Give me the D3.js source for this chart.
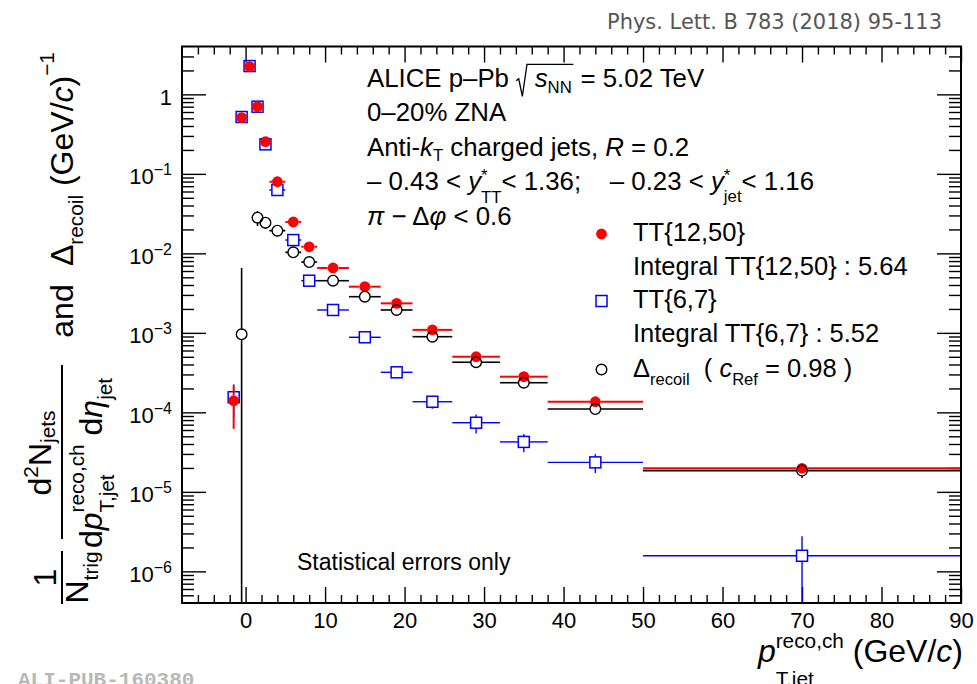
<!DOCTYPE html>
<html>
<head>
<meta charset="utf-8">
<script src="https://cdn.jsdelivr.net/npm/d3@7"></script>
<style>
  body { margin: 0; background: #fff; }
  svg { display: block; }
  text { white-space: pre; }
</style>
</head>
<body>
<svg id="chart" width="977" height="684"></svg>
<script>
// ---- data -------------------------------------------------------------
// bin edges and centres in p_T,jet (GeV/c)
const binEdges   = [-2, -1, 0, 1, 2, 3, 5, 7, 9, 13, 17, 21, 26, 32, 38, 50, 90];
const binCenters = [-1.5, -0.5, 0.5, 1.5, 2.5, 4, 6, 8, 11, 15, 19, 23.5, 29, 35, 44, 70];

// TT{12,50} per-trigger recoil yield and statistical error
const tt1250    = [1.40e-4, 0.51, 2.23, 0.70, 0.254, 0.0796, 0.0248, 0.0121, 0.00655, 0.00381, 0.00235, 0.00109, 5.01e-4, 2.81e-4, 1.36e-4, 1.98e-5];
const tt1250Err = [0.78e-4, 0.01, 0.03, 0.015, 0.006, 0.002, 0.0008, 0.0004, 0.00018, 0.00011, 0.00007, 0.00004, 0.2e-4, 0.13e-4, 0.06e-4, 0.15e-5];

// TT{6,7} per-trigger recoil yield and statistical error
const tt67      = [1.55e-4, 0.519, 2.27, 0.70, 0.235, 0.0627, 0.0147, 0.00453, 0.00194, 8.8e-4, 3.19e-4, 1.36e-4, 7.41e-5, 4.25e-5, 2.35e-5, 1.57e-6];
const tt67Err   = [0.70e-4, 0.02, 0.05, 0.025, 0.01, 0.003, 0.0008, 0.0003, 0.00013, 0.7e-4, 0.3e-4, 0.25e-4, 2.0e-5, 1.1e-5, 0.63e-5, 1.2e-6];

// Delta_recoil (null where the difference is not positive)
const recoil    = [null, 9.59e-4, null, 0.0281, 0.0243, 0.0193, 0.0103, 0.00778, 0.00453, 0.00285, 0.00194, 8.95e-4, 4.27e-4, 2.36e-4, 1.10e-4, 1.85e-5];
const recoilErr = [null, 0.0056, null, 0.006, 0.004, 0.002, 0.0008, 0.0005, 0.0002, 0.00012, 0.00008, 0.00004, 0.2e-4, 0.14e-4, 0.07e-4, 0.36e-5];

// axis ranges and tick labels
const xDomain = [-8, 90];
const yDomain = [4e-7, 4];
const xMajor  = [0, 10, 20, 30, 40, 50, 60, 70, 80, 90];
const yMajor  = [1, 1e-1, 1e-2, 1e-3, 1e-4, 1e-5, 1e-6];

const legendRows = ["TT{12,50}", "Integral TT{12,50} : 5.64", "TT{6,7}", "Integral TT{6,7} : 5.52"];

// ---- layout -------------------------------------------------------------
const FONT = "'Liberation Sans', Arial, Helvetica, sans-serif";
const M = { left: 182, right: 961, top: 46.5, bottom: 603 };
const svg = d3.select("#chart");

const x = d3.scaleLinear().domain(xDomain).range([M.left, M.right]);
const y = d3.scaleLog().domain(yDomain).range([M.bottom, M.top]);

svg.append("rect").attr("width", 977).attr("height", 684).attr("fill", "#fff");

// rich text: sequential pieces with sub/superscripts, stacks and radicals
function rich(parent, parts, base) {
  const g = parent.append("g").attr("font-family", FONT).attr("fill", "#000");
  function piece(p, px) {
    const t = g.append("text")
      .attr("x", px).attr("y", (p.dy || 0) * base)
      .attr("font-size", base * (p.s || 1))
      .text(p.t);
    if (p.it) t.attr("font-style", "italic");
    return t.node().getComputedTextLength();
  }
  function run(list, x0) {
    let cx = x0;
    for (const p of list) {
      if (p.gap != null) { cx += p.gap * base; continue; }
      if (p.stack) {
        let w = 0;
        for (const q of p.stack) w = Math.max(w, piece(q, cx));
        cx += w; continue;
      }
      if (p.sqrt) {
        const s = base, x1 = cx;
        const end = run(p.sqrt, x1 + 0.72 * s);
        g.append("path")
          .attr("d", `M${x1},${-0.22 * s}L${x1 + 0.1 * s},${-0.3 * s}L${x1 + 0.24 * s},${0.38 * s}L${x1 + 0.42 * s},${-0.86 * s}L${end + 0.06 * s},${-0.86 * s}`)
          .attr("fill", "none").attr("stroke", "#000").attr("stroke-width", 1.3);
        cx = end + 0.06 * s; continue;
      }
      cx += piece(p, cx);
    }
    return cx;
  }
  const w = run(parts, 0);
  return { g, w };
}
function place(parts, base, sx, sy, anchor, rot) {
  const r = rich(svg, parts, base);
  const off = anchor === "middle" ? -r.w / 2 : anchor === "end" ? -r.w : 0;
  r.g.attr("transform", `translate(${sx},${sy})${rot ? " rotate(-90)" : ""} translate(${off},0)`);
  return r;
}

// ---- axes -------------------------------------------------------------
function styleAxis(g) {
  g.select(".domain").remove();
  g.selectAll(".tick line").attr("stroke", "#000").attr("stroke-width", 1.4);
  g.attr("font-family", FONT).attr("font-size", 22);
  g.selectAll(".tick text").attr("fill", "#000");
}
const xMinor = d3.range(-6, 90, 2).filter(v => v % 10 !== 0);
const yMinor = [];
for (let k = -7; k <= 0; k++) for (let m = 2; m <= 9; m++) {
  const v = m * Math.pow(10, k);
  if (v > yDomain[0] * 1.001 && v < yDomain[1] * 0.999) yMinor.push(v);
}

svg.append("g").attr("transform", `translate(0,${M.bottom})`)
  .call(d3.axisBottom(x).tickValues(xMajor).tickSizeInner(-16).tickSizeOuter(0).tickPadding(9).tickFormat(d3.format("d")))
  .call(styleAxis);
svg.append("g").attr("transform", `translate(0,${M.bottom})`)
  .call(d3.axisBottom(x).tickValues(xMinor).tickSizeInner(-8).tickSizeOuter(0).tickFormat(""))
  .call(styleAxis);
svg.append("g").attr("transform", `translate(0,${M.top})`)
  .call(d3.axisTop(x).tickValues(xMajor).tickSizeInner(-16).tickSizeOuter(0).tickFormat(""))
  .call(styleAxis);
svg.append("g").attr("transform", `translate(0,${M.top})`)
  .call(d3.axisTop(x).tickValues(xMinor).tickSizeInner(-8).tickSizeOuter(0).tickFormat(""))
  .call(styleAxis);

const gL = svg.append("g").attr("transform", `translate(${M.left},0)`)
  .call(d3.axisLeft(y).tickValues(yMajor).tickSizeInner(-24).tickSizeOuter(0).tickPadding(10))
  .call(styleAxis);
gL.selectAll(".tick text").each(function (d) {
  const e = Math.round(Math.log10(d));
  const t = d3.select(this).text(null).attr("dy", "0.46em");
  if (e === 0) { t.text("1"); return; }
  t.append("tspan").text("10");
  t.append("tspan").attr("font-size", 16).attr("dy", -9).text("\u2212" + (-e));
});
svg.append("g").attr("transform", `translate(${M.left},0)`)
  .call(d3.axisLeft(y).tickValues(yMinor).tickSizeInner(-12).tickSizeOuter(0).tickFormat(""))
  .call(styleAxis);
svg.append("g").attr("transform", `translate(${M.right},0)`)
  .call(d3.axisRight(y).tickValues(yMajor).tickSizeInner(-24).tickSizeOuter(0).tickFormat(""))
  .call(styleAxis);
svg.append("g").attr("transform", `translate(${M.right},0)`)
  .call(d3.axisRight(y).tickValues(yMinor).tickSizeInner(-12).tickSizeOuter(0).tickFormat(""))
  .call(styleAxis);

// ---- data marks -------------------------------------------------------
svg.append("clipPath").attr("id", "plotClip").append("rect")
  .attr("x", M.left).attr("y", M.top).attr("width", M.right - M.left).attr("height", M.bottom - M.top);
const plot = svg.append("g").attr("clip-path", "url(#plotClip)");

function marker(g, cx, cy, st) {
  if (st.marker === "dot") {
    g.append("circle").attr("cx", cx).attr("cy", cy).attr("r", st.half).attr("fill", st.color).attr("stroke", "none");
  } else if (st.marker === "square") {
    g.append("rect").attr("x", cx - st.half).attr("y", cy - st.half)
      .attr("width", 2 * st.half).attr("height", 2 * st.half)
      .attr("fill", "none").attr("stroke", st.color).attr("stroke-width", 1.5);
  } else {
    g.append("circle").attr("cx", cx).attr("cy", cy).attr("r", st.half)
      .attr("fill", "none").attr("stroke", st.color).attr("stroke-width", 1.4);
  }
}

function drawSeries(vals, errs, st) {
  const g = plot.append("g");
  vals.forEach((v, i) => {
    if (v == null) return;
    const cx = x(binCenters[i]), cy = y(v);
    const xl = x(binEdges[i]), xr = x(binEdges[i + 1]);
    const e = errs[i];
    const yt = y(v + e);
    const yb = v - e > yDomain[0] ? y(v - e) : M.bottom + 5;
    const h = st.half;
    const segs = [];
    if (cx - h > xl) segs.push([xl, cy, cx - h, cy]);
    if (xr > cx + h) segs.push([cx + h, cy, xr, cy]);
    if (cy - h > yt) segs.push([cx, yt, cx, cy - h]);
    if (yb > cy + h) segs.push([cx, cy + h, cx, yb]);
    segs.forEach(s => g.append("line")
      .attr("x1", s[0]).attr("y1", s[1]).attr("x2", s[2]).attr("y2", s[3])
      .attr("stroke", st.color).attr("stroke-width", st.lw));
    marker(g, cx, cy, st);
  });
}

const styleTT67   = { color: "#0000ff", marker: "square", half: 5.5, lw: 1.4 };
const styleTT1250 = { color: "#ff0000", marker: "dot",    half: 5.4, lw: 2 };
const styleRecoil = { color: "#000000", marker: "circle", half: 5.3, lw: 1.6 };

drawSeries(tt67, tt67Err, styleTT67);
drawSeries(tt1250, tt1250Err, styleTT1250);
drawSeries(recoil, recoilErr, styleRecoil);

// ---- frame ------------------------------------------------------------
svg.append("rect").attr("x", M.left).attr("y", M.top)
  .attr("width", M.right - M.left).attr("height", M.bottom - M.top)
  .attr("fill", "none").attr("stroke", "#000").attr("stroke-width", 2);

// ---- annotations ------------------------------------------------------
const T = 25.8;
place([{ t: "ALICE p\u2013Pb " },
       { sqrt: [{ t: "s", it: true }, { t: "NN", s: 0.65, dy: 0.25 }] },
       { t: " = 5.02 TeV" }], T, 367, 86.5);
place([{ t: "0\u201320% ZNA" }], T, 367, 120.5);
place([{ t: "Anti-" }, { t: "k", it: true }, { t: "T", s: 0.65, dy: 0.2 },
       { t: " charged jets, " }, { t: "R", it: true }, { t: " = 0.2" }], T, 367, 156);
place([{ t: "\u2013 0.43 < " }, { t: "y", it: true },
       { stack: [{ t: "*", s: 0.65, dy: -0.36 }, { t: "TT", s: 0.65, dy: 0.52 }] },
       { t: "< 1.36;    \u2013 0.23 < " }, { t: "y", it: true },
       { stack: [{ t: "*", s: 0.65, dy: -0.36 }, { t: "jet", s: 0.65, dy: 0.45 }] },
       { t: "< 1.16" }], T, 367, 190);
place([{ t: "\u03c0", it: true }, { t: " \u2212 \u0394" }, { t: "\u03c6", it: true }, { t: " < 0.6" }], T, 367, 225);

// legend
const L = 25.5;
const legX = 633, legMarkX = 601.5;
const legBase = [241, 275, 308, 342, 376.5];
legendRows.forEach((txt, i) => place([{ t: txt }], L, legX, legBase[i]));
place([{ t: "\u0394" }, { t: "recoil", s: 0.65, dy: 0.32 }, { t: "  ( " },
       { t: "c", it: true }, { t: "Ref", s: 0.65, dy: 0.32 }, { t: " = 0.98 )" }], L, legX, legBase[4]);
const gLeg = svg.append("g");
marker(gLeg, legMarkX, legBase[0] - 7, styleTT1250);
marker(gLeg, legMarkX, legBase[2] - 7, styleTT67);
marker(gLeg, legMarkX, legBase[4] - 7, styleRecoil);

place([{ t: "Statistical errors only" }], 23, 297, 570);

// ---- axis titles ------------------------------------------------------
place([{ t: "p", it: true },
       { stack: [{ t: "reco,ch", s: 0.65, dy: -0.44 }, { t: "T,jet", s: 0.65, dy: 0.75 }] },
       { t: " (GeV/" }, { t: "c", it: true }, { t: ")" }], 32, 963, 662, "end");

const YT = 32;
// 1 / N_trig
place([{ t: "1" }], YT, 56, 577.5, "middle", true);
svg.append("line").attr("x1", 62).attr("x2", 62).attr("y1", 551).attr("y2", 604).attr("stroke", "#000").attr("stroke-width", 2);
place([{ t: "N" }, { t: "trig", s: 0.65, dy: 0.3 }], YT, 88, 577.5, "middle", true);
// d2N_jets over dp dEta
place([{ t: "d" }, { t: "2", s: 0.65, dy: -0.42 }, { t: "N" }, { t: "jets", s: 0.65, dy: 0.14 }], YT, 51, 453, "middle", true);
svg.append("line").attr("x1", 62).attr("x2", 62).attr("y1", 365).attr("y2", 539).attr("stroke", "#000").attr("stroke-width", 2);
place([{ t: "d" }, { t: "p", it: true },
       { stack: [{ t: "reco,ch", s: 0.65, dy: -0.55 }, { t: "T,jet", s: 0.65, dy: 0.38 }] },
       { t: " d" }, { t: "\u03b7", it: true }, { t: "jet", s: 0.65, dy: 0.3 }], YT, 102, 463, "middle", true);
place([{ t: "and" }], YT, 73, 311, "middle", true);
place([{ t: "\u0394" }, { t: "recoil", s: 0.65, dy: 0.3 }, { t: " (GeV/" }, { t: "c", it: true }, { t: ")" },
       { t: "\u22121", s: 0.65, dy: -0.6 }], YT, 73, 266, "start", true);

// ---- page labels ------------------------------------------------------
svg.append("text").attr("x", 607).attr("y", 28.5)
  .attr("font-family", "'DejaVu Sans', Verdana, sans-serif").attr("font-size", 21)
  .attr("fill", "#555").attr("textLength", 335).attr("lengthAdjust", "spacingAndGlyphs")
  .text("Phys. Lett. B 783 (2018) 95-113");
svg.append("text").attr("x", 18).attr("y", 686)
  .attr("font-family", "'Liberation Mono', 'DejaVu Sans Mono', monospace").attr("font-size", 21)
  .attr("font-weight", "bold").attr("fill", "#b8b8b8")
  .text("ALI-PUB-160380");
</script>
</body>
</html>
